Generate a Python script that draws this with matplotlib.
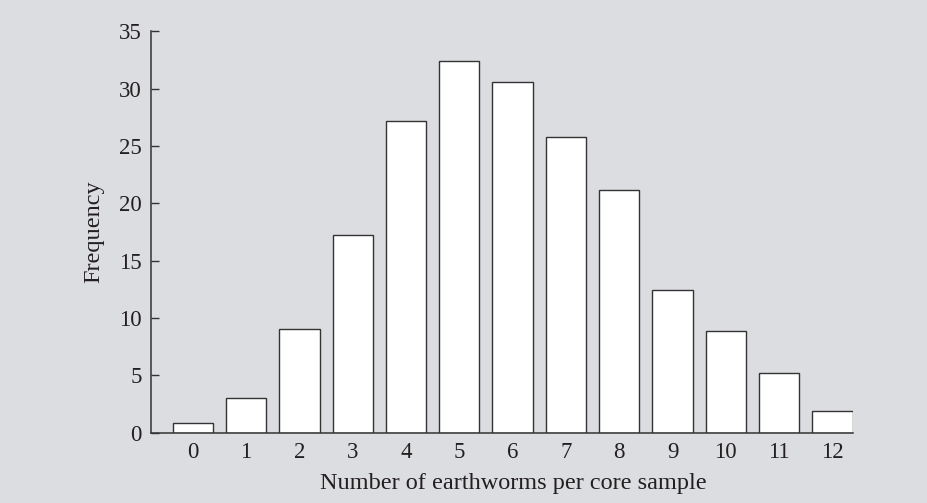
import numpy as np
import matplotlib
matplotlib.use("Agg")
import matplotlib.pyplot as plt

# 数据：每个土芯样本中的蚯蚓数量及频数
worm_counts = list(range(13))
frequency = [0.85, 3.0, 9.0, 17.2, 27.2, 32.4, 30.6, 25.8, 21.2, 12.4, 8.9, 5.2, 1.9]
y_ticks = [0, 5, 10, 15, 20, 25, 30, 35]

bg = "#dcdde0"
ink = "#231f20"

plt.rcParams["font.family"] = ["Liberation Serif", "DejaVu Serif"]

fig = plt.figure(figsize=(9.27, 5.03), dpi=100, facecolor=bg)
ax = fig.add_axes([0.1632, 0.1398, 0.7565, 0.798])
ax.set_facecolor(bg)

ax.bar(worm_counts, frequency, width=0.756, color="white",
       edgecolor="#333333", linewidth=1.0, zorder=2)

ax.set_xlim(-0.78, 12.378)
ax.set_ylim(0, 35)
ax.set_yticks(y_ticks)
ax.set_xticks(worm_counts)

for s in ["top", "right"]:
    ax.spines[s].set_visible(False)
for s in ["left", "bottom"]:
    ax.spines[s].set_color("#333333")
    ax.spines[s].set_linewidth(1.1)

ax.tick_params(axis="y", direction="in", length=6, width=1.0,
               color="#333333", pad=7, labelsize=16.5, labelcolor=ink)
ax.tick_params(axis="x", length=0, pad=7, labelsize=16.5, labelcolor=ink)

ax.set_xlabel("Number of earthworms per core sample", fontsize=17.5, color=ink)
ax.xaxis.set_label_coords(0.5157, -0.1)
ax.set_ylabel("Frequency", fontsize=17.5, color=ink)
ax.yaxis.set_label_coords(-0.0675, 0.5)

fig.savefig("out.png", dpi=100, facecolor=bg)
